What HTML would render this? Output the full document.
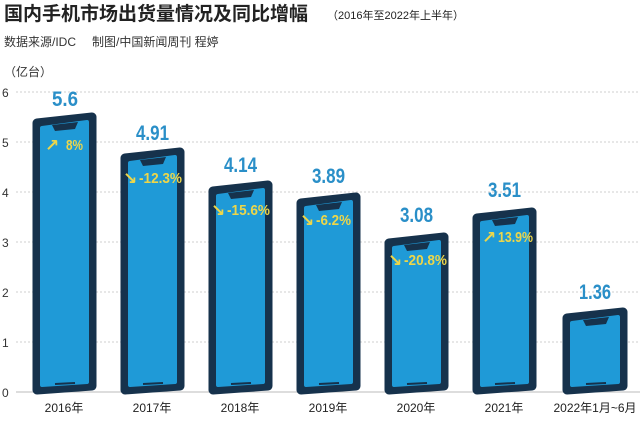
<!DOCTYPE html>
<html><head><meta charset="utf-8"><style>
body{margin:0;background:#fff;width:640px;height:421px;overflow:hidden}
svg{display:block}
.t{font-family:"Liberation Sans","Noto Sans CJK SC",sans-serif}
.v{font-family:"Liberation Sans",sans-serif;font-weight:bold;fill:#2a8fc8;font-size:21px}
.p{font-family:"Liberation Sans",sans-serif;font-weight:bold;fill:#ecd64a;font-size:15px}
.a{fill:#ecd64a;font-family:"DejaVu Sans",sans-serif;font-weight:bold;font-size:17px}
.o{fill:#16324c;stroke:#16324c;stroke-width:9;stroke-linejoin:round}
.i{fill:#1f9ad7;stroke:#1f9ad7;stroke-width:4;stroke-linejoin:round}
.n{fill:#16324c}
.h{stroke:#16324c;stroke-width:2}
</style></head><body>
<svg width="640" height="421" xmlns="http://www.w3.org/2000/svg">
<text x="4" y="20" class="t" font-size="19" font-weight="bold" fill="#222">国内手机市场出货量情况及同比增幅</text>
<text x="327" y="19" class="t" font-size="11" fill="#222">（2016年至2022年上半年）</text>
<text x="4" y="46" class="t" font-size="12" fill="#333">数据来源/IDC</text>
<text x="92" y="46" class="t" font-size="12" fill="#333">制图/中国新闻周刊 程婷</text>
<text x="4" y="76" class="t" font-size="12" fill="#333">（亿台）</text>
<g stroke="#cfcfcf" stroke-dasharray="2,2" stroke-width="1">
<line x1="16" y1="92" x2="640" y2="92"/><line x1="16" y1="142" x2="640" y2="142"/>
<line x1="16" y1="192" x2="640" y2="192"/><line x1="16" y1="242" x2="640" y2="242"/>
<line x1="16" y1="292" x2="640" y2="292"/><line x1="16" y1="342" x2="640" y2="342"/>
</g>
<line x1="16" y1="392" x2="640" y2="392" stroke="#bbb"/>
<g class="t" font-size="12" fill="#333">
<text x="2" y="97">6</text><text x="2" y="147">5</text><text x="2" y="197">4</text><text x="2" y="247">3</text><text x="2" y="297">2</text><text x="2" y="347">1</text><text x="2" y="397">0</text>
</g>
<g class="t" font-size="12" fill="#222" text-anchor="middle">
<text x="64" y="412">2016年</text><text x="152" y="412">2017年</text><text x="240" y="412">2018年</text><text x="328" y="412">2019年</text><text x="416" y="412">2020年</text><text x="504" y="412">2021年</text><text x="595" y="412">2022年1月~6月</text>
</g>
<g>
<path class="o" d="M37,123 L92,117 L92,386 L37,390 Z"/><path class="i" d="M42,128 L87,122 L87,382 L42,385 Z"/>
<path class="n" d="M52,125 L78,122 L75,129 L55,131 Z"/><line class="h" x1="55" y1="384" x2="75" y2="383"/>

<path class="o" d="M125,158 L180,152 L180,386 L125,390 Z"/><path class="i" d="M130,163 L175,157 L175,382 L130,385 Z"/>
<path class="n" d="M140,160 L166,157 L163,164 L143,166 Z"/><line class="h" x1="143" y1="384" x2="163" y2="383"/>

<path class="o" d="M213,191 L268,185 L268,386 L213,390 Z"/><path class="i" d="M218,196 L263,190 L263,382 L218,385 Z"/>
<path class="n" d="M228,193 L254,190 L251,197 L231,199 Z"/><line class="h" x1="231" y1="384" x2="251" y2="383"/>

<path class="o" d="M301,203 L356,197 L356,386 L301,390 Z"/><path class="i" d="M306,208 L351,202 L351,382 L306,385 Z"/>
<path class="n" d="M316,205 L342,202 L339,209 L319,211 Z"/><line class="h" x1="319" y1="384" x2="339" y2="383"/>

<path class="o" d="M389,243 L444,237 L444,386 L389,390 Z"/><path class="i" d="M394,248 L439,242 L439,382 L394,385 Z"/>
<path class="n" d="M404,245 L430,242 L427,249 L407,251 Z"/><line class="h" x1="407" y1="384" x2="427" y2="383"/>

<path class="o" d="M477,218 L532,212 L532,386 L477,390 Z"/><path class="i" d="M482,223 L527,217 L527,382 L482,385 Z"/>
<path class="n" d="M492,220 L518,217 L515,224 L495,226 Z"/><line class="h" x1="495" y1="384" x2="515" y2="383"/>

<path class="o" d="M567,318 L623,312 L623,386 L567,390 Z"/><path class="i" d="M572,323 L618,317 L618,382 L572,385 Z"/>
<path class="n" d="M583,320 L609,317 L606,324 L586,326 Z"/><line class="h" x1="586" y1="384" x2="606" y2="383"/>
</g>
<g class="v" text-anchor="start">
<text x="52" y="106" textLength="26" lengthAdjust="spacingAndGlyphs">5.6</text>
<text x="136" y="140" textLength="33" lengthAdjust="spacingAndGlyphs">4.91</text>
<text x="224" y="172" textLength="33" lengthAdjust="spacingAndGlyphs">4.14</text>
<text x="312" y="183" textLength="33" lengthAdjust="spacingAndGlyphs">3.89</text>
<text x="400" y="222" textLength="33" lengthAdjust="spacingAndGlyphs">3.08</text>
<text x="488" y="197" textLength="33" lengthAdjust="spacingAndGlyphs">3.51</text>
<text x="579" y="299" textLength="32" lengthAdjust="spacingAndGlyphs">1.36</text>
</g>
<g class="a">
<text x="45" y="151">↗</text><text x="123" y="184">↘</text><text x="211" y="216">↘</text><text x="300" y="226">↘</text><text x="388" y="266">↘</text><text x="482" y="243">↗</text>
</g>
<g class="p">
<text x="66" y="150" textLength="17" lengthAdjust="spacingAndGlyphs">8%</text>
<text x="139" y="183" textLength="43" lengthAdjust="spacingAndGlyphs">-12.3%</text>
<text x="227" y="215" textLength="43" lengthAdjust="spacingAndGlyphs">-15.6%</text>
<text x="316" y="225" textLength="35" lengthAdjust="spacingAndGlyphs">-6.2%</text>
<text x="404" y="265" textLength="43" lengthAdjust="spacingAndGlyphs">-20.8%</text>
<text x="498" y="242" textLength="35" lengthAdjust="spacingAndGlyphs">13.9%</text>
</g>
</svg>
</body></html>
